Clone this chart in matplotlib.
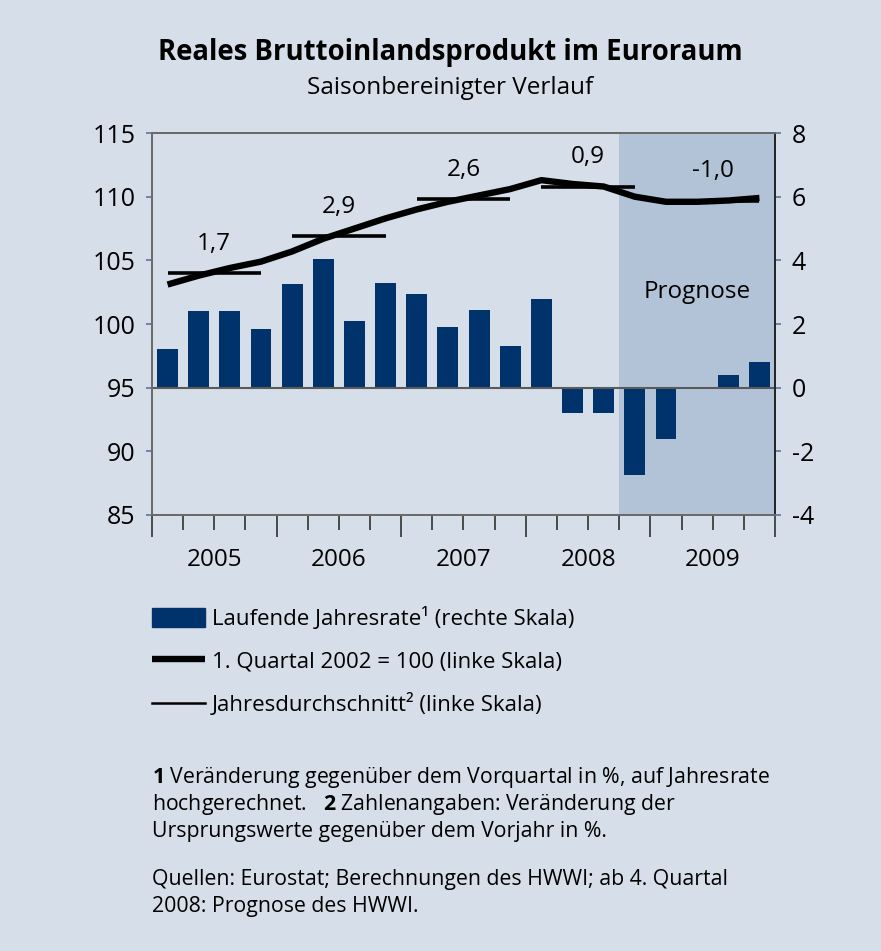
import numpy as np
import matplotlib
matplotlib.use("Agg")
import matplotlib.pyplot as plt
from matplotlib.patches import Patch
from matplotlib.lines import Line2D

plt.rcParams['font.family'] = ['Open Sans', 'DejaVu Sans']
plt.rcParams['mathtext.fontset'] = 'custom'
plt.rcParams['mathtext.rm'] = 'Open Sans'
plt.rcParams['mathtext.bf'] = 'Open Sans:bold'
plt.rcParams['axes.unicode_minus'] = False

# Daten: 2005Q1 .. 2009Q4
jahre = ['2005', '2006', '2007', '2008', '2009']
jahresrate = [1.2, 2.4, 2.4, 1.85, 3.25, 4.05, 2.1, 3.3, 2.95, 1.9, 2.45, 1.3,
              2.8, -0.8, -0.8, -2.75, -1.6, 0.0, 0.4, 0.8]
index_2002 = [103.1, 103.8, 104.4, 104.9, 105.7, 106.7, 107.5, 108.3, 109.0, 109.6,
              110.1, 110.6, 111.3, 111.0, 110.8, 110.0, 109.6, 109.6, 109.7, 109.9]
jahresdurchschnitt = [104.0, 106.9, 109.8, 110.8, 109.7]
veraenderung = ['1,7', '2,9', '2,6', '0,9', '-1,0']
prognose_ab = 15  # ab 4. Quartal 2008

bg = '#d6dfe9'
shade = '#b3c3d7'
bar_col = '#00336b'

fig = plt.figure(figsize=(8.81, 9.51), dpi=100, facecolor=bg)
ax = fig.add_axes([0.1725, 0.4585, 0.7072, 0.4016])
ax.set_facecolor(bg)
ax2 = ax.twinx()
ax2.set_facecolor('none')

x = np.arange(len(jahresrate))

# Balken (rechte Skala)
ax.axvspan(prognose_ab - 0.5, len(x) - 0.5, color=shade, zorder=0, lw=0)
ax.bar(x, jahresrate, width=0.67, color=bar_col, zorder=2)
ax.axhline(0, color='#5a5a5a', lw=1.5, zorder=3)
ax.set_ylim(-4, 8)
ax.set_yticks(np.arange(-4, 9, 2))
ax.yaxis.tick_right()
ax.text(17, 3.0, 'Prognose', ha='center', va='center', fontsize=17.5)

# Linien (linke Skala)
ax2.plot(x, index_2002, color='black', lw=4.6, solid_capstyle='butt', zorder=4)
for i, (avg, lab) in enumerate(zip(jahresdurchschnitt, veraenderung)):
    ax2.plot([4 * i, 4 * i + 3], [avg, avg], color='black', lw=2.6,
             solid_capstyle='butt', zorder=4)
    ax2.text(4 * i + 1.5, avg + 2.3, lab, ha='center', va='center', fontsize=17.5)
ax2.set_ylim(85, 115)
ax2.set_yticks(np.arange(85, 116, 5))
ax2.yaxis.tick_left()

ax.set_xlim(-0.5, len(x) - 0.5)
ax.set_xticks(np.arange(-0.5, len(x), 4))
ax.set_xticks(np.arange(-0.5, len(x), 1), minor=True)
ax.set_xticklabels([])
ax.tick_params(axis='x', which='major', direction='out', length=16, width=1.1, color='#222222')
ax.tick_params(axis='x', which='minor', direction='out', length=11, width=1.1, color='#222222')
for i, j in enumerate(jahre):
    ax.text(4 * i + 1.5, -5.4, j, ha='center', va='center', fontsize=17.5)

ax.tick_params(axis='y', direction='out', length=4, width=1.2, color='#5b73a0',
               labelsize=18, pad=8)
ax2.tick_params(axis='y', direction='out', length=4, width=1.2, color='#5b73a0',
                labelsize=18, pad=8)

for a in (ax, ax2):
    for s in ('top', 'left', 'bottom'):
        a.spines[s].set_color('#6a6a6a')
        a.spines[s].set_linewidth(1.4)
    a.spines['right'].set_color('#222222')
    a.spines['right'].set_linewidth(1.2)

fig.text(0.511, 0.945, 'Reales Bruttoinlandsprodukt im Euroraum', ha='center', va='center',
         fontsize=19.8, fontweight='bold')
fig.text(0.511, 0.907, 'Saisonbereinigter Verlauf', ha='center', va='center', fontsize=17.5)

handles = [Patch(color=bar_col),
           Line2D([], [], color='black', lw=4.6, solid_capstyle='butt'),
           Line2D([], [], color='black', lw=1.8)]
labels = ['Laufende Jahresrate¹ (rechte Skala)',
          '1. Quartal 2002 = 100 (linke Skala)',
          'Jahresdurchschnitt² (linke Skala)']
fig.legend(handles, labels, loc='upper left', bbox_to_anchor=(0.1725, 0.362),
           frameon=False, fontsize=16, handlelength=2.4, handleheight=0.95,
           handletextpad=0.3, labelspacing=0.93, borderpad=0, borderaxespad=0)

fuss = [r'$\mathbf{1}$ Veränderung gegenüber dem Vorquartal in %, auf Jahresrate',
        r'hochgerechnet.   $\mathbf{2}$ Zahlenangaben: Veränderung der',
        'Ursprungswerte gegenüber dem Vorjahr in %.']
quelle = ['Quellen: Eurostat; Berechnungen des HWWI; ab 4. Quartal',
          '2008: Prognose des HWWI.']
for k, t in enumerate(fuss):
    fig.text(0.1725, 1 - (778 + 26.5 * k) / 951, t, ha='left', va='center', fontsize=15.3)
for k, t in enumerate(quelle):
    fig.text(0.1725, 1 - (880 + 26.5 * k) / 951, t, ha='left', va='center', fontsize=15.3)

fig.savefig('out.png', dpi=100, facecolor=bg)
